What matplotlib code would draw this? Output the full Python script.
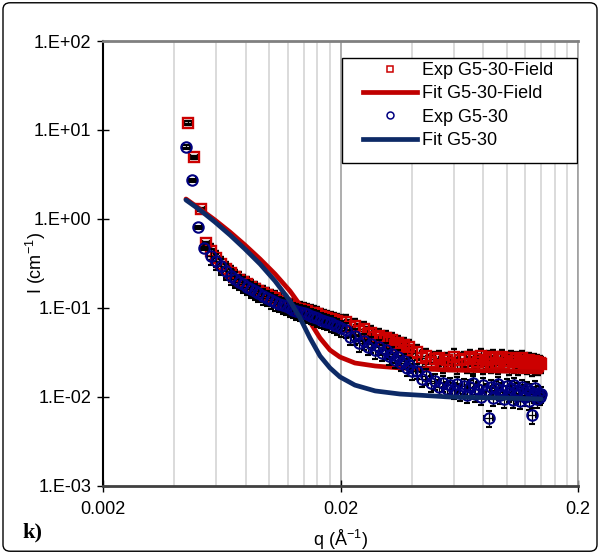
import numpy as np
import matplotlib.pyplot as plt
from matplotlib.lines import Line2D
from matplotlib.patches import Rectangle, FancyBboxPatch
from matplotlib.ticker import NullLocator, NullFormatter

plt.rcParams['font.family'] = ['Liberation Sans', 'DejaVu Sans']
plt.rcParams['mathtext.default'] = 'regular'

# --- data ---
# first few (isolated) low-q points, the two series sit on slightly different q
q_field_low = [0.00456, 0.00483, 0.00517, 0.00543]
i_field_low = [12.0, 4.97, 1.29, 0.537]
q_g530_low = [0.00447, 0.00474, 0.00502, 0.00532]
i_g530_low = [6.44, 2.74, 0.81, 0.47]

# dense part, shared q grid
q_exp = [0.0057, 0.0060, 0.0063, 0.0066, 0.0069, 0.0072, 0.0075, 0.0078, 0.0081, 0.0084,
         0.0087, 0.0090, 0.0094, 0.0098, 0.0102, 0.0106, 0.0110, 0.0114, 0.0118, 0.0122,
         0.0126, 0.0130, 0.0135, 0.0140, 0.0145, 0.0150, 0.0155, 0.0160, 0.0165, 0.0170,
         0.0176, 0.0182, 0.0188, 0.0194, 0.0200,
         0.021, 0.022, 0.023, 0.024, 0.025, 0.026, 0.027, 0.028, 0.029, 0.030,
         0.031, 0.032, 0.033, 0.034, 0.035, 0.036, 0.037, 0.038, 0.039, 0.040,
         0.042, 0.044, 0.046, 0.048, 0.050, 0.052, 0.054, 0.056, 0.058, 0.060,
         0.062, 0.064, 0.066, 0.068, 0.070, 0.072, 0.074, 0.076, 0.078, 0.080,
         0.082, 0.084, 0.086, 0.088, 0.090, 0.092, 0.094, 0.096, 0.098, 0.100,
         0.102, 0.104, 0.106, 0.108, 0.110, 0.112, 0.114, 0.116, 0.118, 0.120,
         0.122, 0.124, 0.126, 0.128, 0.130, 0.132, 0.134, 0.136, 0.138, 0.140]

i_field_exp = [0.437, 0.365, 0.312, 0.274, 0.247, 0.223, 0.209, 0.194, 0.184, 0.172,
               0.163, 0.155, 0.147, 0.140, 0.133, 0.129, 0.120, 0.114, 0.110, 0.105,
               0.103, 0.098, 0.097, 0.094, 0.092, 0.089, 0.087, 0.085, 0.082, 0.080,
               0.078, 0.075, 0.074, 0.071, 0.0696,
               0.069, 0.061, 0.0622, 0.055, 0.058, 0.0505, 0.0525, 0.0468, 0.0490, 0.0432,
               0.0460, 0.0410, 0.0436, 0.0388, 0.0408, 0.0362, 0.0382, 0.0334, 0.0360, 0.0314,
               0.0322, 0.0274, 0.0290, 0.0250, 0.0270,
               0.0276, 0.0231, 0.0262, 0.0244, 0.0285,
               0.0226, 0.0258, 0.0270, 0.0235, 0.0281, 0.0229, 0.0266, 0.0247, 0.0288, 0.0224,
               0.0259, 0.0272, 0.0233, 0.0279, 0.0241, 0.0227, 0.0268, 0.0284, 0.0236, 0.0255,
               0.0222, 0.0273, 0.0245, 0.0230, 0.0266, 0.0219, 0.0257, 0.0276, 0.0232, 0.0250,
               0.0225, 0.0263, 0.0238, 0.0216, 0.0254, 0.0228, 0.0247, 0.0221, 0.0243, 0.0235]

i_g530_exp = [0.384, 0.337, 0.296, 0.260, 0.229, 0.212, 0.198, 0.184, 0.174, 0.163,
              0.155, 0.147, 0.136, 0.130, 0.123, 0.117, 0.112, 0.108, 0.104, 0.100,
              0.096, 0.0927, 0.090, 0.087, 0.085, 0.082, 0.080, 0.077, 0.074, 0.072,
              0.070, 0.068, 0.065, 0.062, 0.0596,
              0.057, 0.0475, 0.0480, 0.0400, 0.0422, 0.0366, 0.0390, 0.0338, 0.0366, 0.0316,
              0.0334, 0.0288, 0.0305, 0.0263, 0.0283, 0.0242, 0.0255, 0.0213, 0.0230, 0.0194,
              0.0198, 0.0160, 0.0170, 0.0143, 0.0151,
              0.0131, 0.0142, 0.0123, 0.0135, 0.0119,
              0.0141, 0.0112, 0.0133, 0.0106, 0.0128, 0.0145, 0.0109, 0.0124, 0.0101, 0.0137,
              0.0118, 0.0058, 0.0131, 0.0098, 0.0126, 0.0140, 0.0104, 0.0121, 0.0095, 0.0133,
              0.0110, 0.0127, 0.0093, 0.0136, 0.0105, 0.0119, 0.0091, 0.0128, 0.0113, 0.0099,
              0.0124, 0.0090, 0.0117, 0.0062, 0.0108, 0.0125, 0.0094, 0.0112, 0.0101, 0.0107]

# relative error bars (estimated): small on the isolated low-q points
rel_err_i_low = 0.04
rel_err_i = 0.2
rel_err_q = 0.04

# fitted curves
q_fit = [0.00447, 0.00512, 0.00592, 0.00685, 0.00792, 0.00917, 0.0106, 0.01226, 0.01351,
         0.01488, 0.0164, 0.01806, 0.0199, 0.0230, 0.0280, 0.0356, 0.0578, 0.0939, 0.1397]
i_fit_field = [1.678, 1.296, 0.974, 0.714, 0.510, 0.355, 0.241, 0.155, 0.108,
               0.0696, 0.0460, 0.0337, 0.0281, 0.0241, 0.0223, 0.0212, 0.0201, 0.0196, 0.0191]
i_fit_g530 = [1.635, 1.262, 0.925, 0.661, 0.460, 0.312, 0.201, 0.120, 0.0772,
              0.0460, 0.0289, 0.0212, 0.0168, 0.0136, 0.0117, 0.0108, 0.0100, 0.00975, 0.0095]

labels = ['Exp G5-30-Field', 'Fit G5-30-Field', 'Exp G5-30', 'Fit G5-30']

red_mk = '#CC0000'
red_ln = '#C00000'
blue_mk = '#000080'
blue_ln = '#0D2A66'

fig = plt.figure(figsize=(6, 5.54), dpi=100)
ax = fig.add_axes([103 / 600, 68 / 554, 475 / 600, 445 / 554])
ax.set_xscale('log')
ax.set_yscale('log')

q1 = np.array(q_field_low + q_exp)
i1 = np.array(i_field_low + i_field_exp)
q2 = np.array(q_g530_low + q_exp)
i2 = np.array(i_g530_low + i_g530_exp)
n_low = len(q_field_low)
rel1 = np.where(np.arange(len(i1)) < n_low, rel_err_i_low, rel_err_i)
rel2 = np.where(np.arange(len(i2)) < n_low, rel_err_i_low, rel_err_i)

ax.errorbar(q1, i1, yerr=i1 * rel1, xerr=q1 * rel_err_q, fmt='s', ms=7.5,
            mfc='none', mec=red_mk, mew=1.7, ecolor='black', elinewidth=0.9,
            capsize=2.5, capthick=0.9, zorder=2)
ax.plot(q_fit, i_fit_field, color=red_ln, lw=3.4, solid_capstyle='round', zorder=3)
ax.errorbar(q2, i2, yerr=i2 * rel2, xerr=q2 * rel_err_q, fmt='o', ms=7.5,
            mfc='none', mec=blue_mk, mew=1.5, ecolor='black', elinewidth=0.9,
            capsize=2.5, capthick=0.9, zorder=4)
ax.plot(q_fit, i_fit_g530, color=blue_ln, lw=3.4, solid_capstyle='round', zorder=5)

ax.set_xlim(0.002, 0.2)
ax.set_ylim(1e-3, 1e2)

# axes / ticks, Excel-like
ax.set_xticks([0.002, 0.02, 0.2])
ax.set_xticklabels(['0.002', '0.02', '0.2'])
minor_x = [m * 0.002 for m in range(2, 10)] + [m * 0.02 for m in range(2, 10)]
ax.set_xticks(minor_x, minor=True)
ax.xaxis.set_minor_formatter(NullFormatter())
ax.set_yticks([1e-3, 1e-2, 1e-1, 1e0, 1e1, 1e2])
ax.set_yticklabels(['1.E-03', '1.E-02', '1.E-01', '1.E+00', '1.E+01', '1.E+02'])
ax.yaxis.set_minor_locator(NullLocator())
ax.tick_params(which='major', direction='inout', length=9, width=1, labelsize=13)
ax.tick_params(axis='x', which='major', pad=6)
ax.tick_params(axis='y', which='major', pad=4)
ax.tick_params(axis='x', which='minor', length=0)

ax.set_axisbelow(True)
ax.grid(which='minor', axis='x', color='#D4D4D4', lw=1.2)
ax.grid(which='major', axis='x', color='#A0A0A0', lw=1.2)

ax.spines['left'].set_color('black')
ax.spines['left'].set_linewidth(1.5)
ax.spines['bottom'].set_color('#404040')
ax.spines['bottom'].set_linewidth(2)
ax.spines['top'].set_color('#808080')
ax.spines['top'].set_linewidth(2)
ax.spines['right'].set_color('#A0A0A0')
ax.spines['right'].set_linewidth(1.2)

ax.set_ylabel('I (cm$^{-1}$)', fontsize=13)
ax.yaxis.set_label_coords(-0.115, 0.5)
ax.set_xlabel('q (Å$^{-1}$)', fontsize=13)
ax.xaxis.set_label_coords(0.5, -0.094)

# legend: white box with black frame, entries inside
box = Rectangle((0.503, 0.726), 0.495, 0.236, transform=ax.transAxes,
                facecolor='white', edgecolor='black', lw=1, zorder=6)
ax.add_patch(box)
handles = [
    Line2D([], [], ls='none', marker='s', ms=5, mfc='none', mec=red_mk, mew=1.1),
    Line2D([], [], color=red_ln, lw=3.4),
    Line2D([], [], ls='none', marker='o', ms=5, mfc='none', mec=blue_mk, mew=1.1),
    Line2D([], [], color=blue_ln, lw=3.4),
]
leg = ax.legend(handles, labels, loc='upper left', bbox_to_anchor=(0.547, 0.953),
                frameon=False, borderpad=0, borderaxespad=0, handlelength=3.0,
                handletextpad=0.25, labelspacing=0.35, fontsize=13)
leg.set_zorder(7)

fig.text(22 / 600, 1 - 537 / 554, 'k)', fontfamily='Liberation Serif',
         fontweight='bold', fontsize=16, va='baseline')

frame = FancyBboxPatch((0.005, 0.005), 0.99, 0.99,
                       boxstyle='round,pad=0,rounding_size=0.012',
                       transform=fig.transFigure, fill=False, ec='black', lw=1)
fig.add_artist(frame)

fig.savefig('out.png', dpi=100)
